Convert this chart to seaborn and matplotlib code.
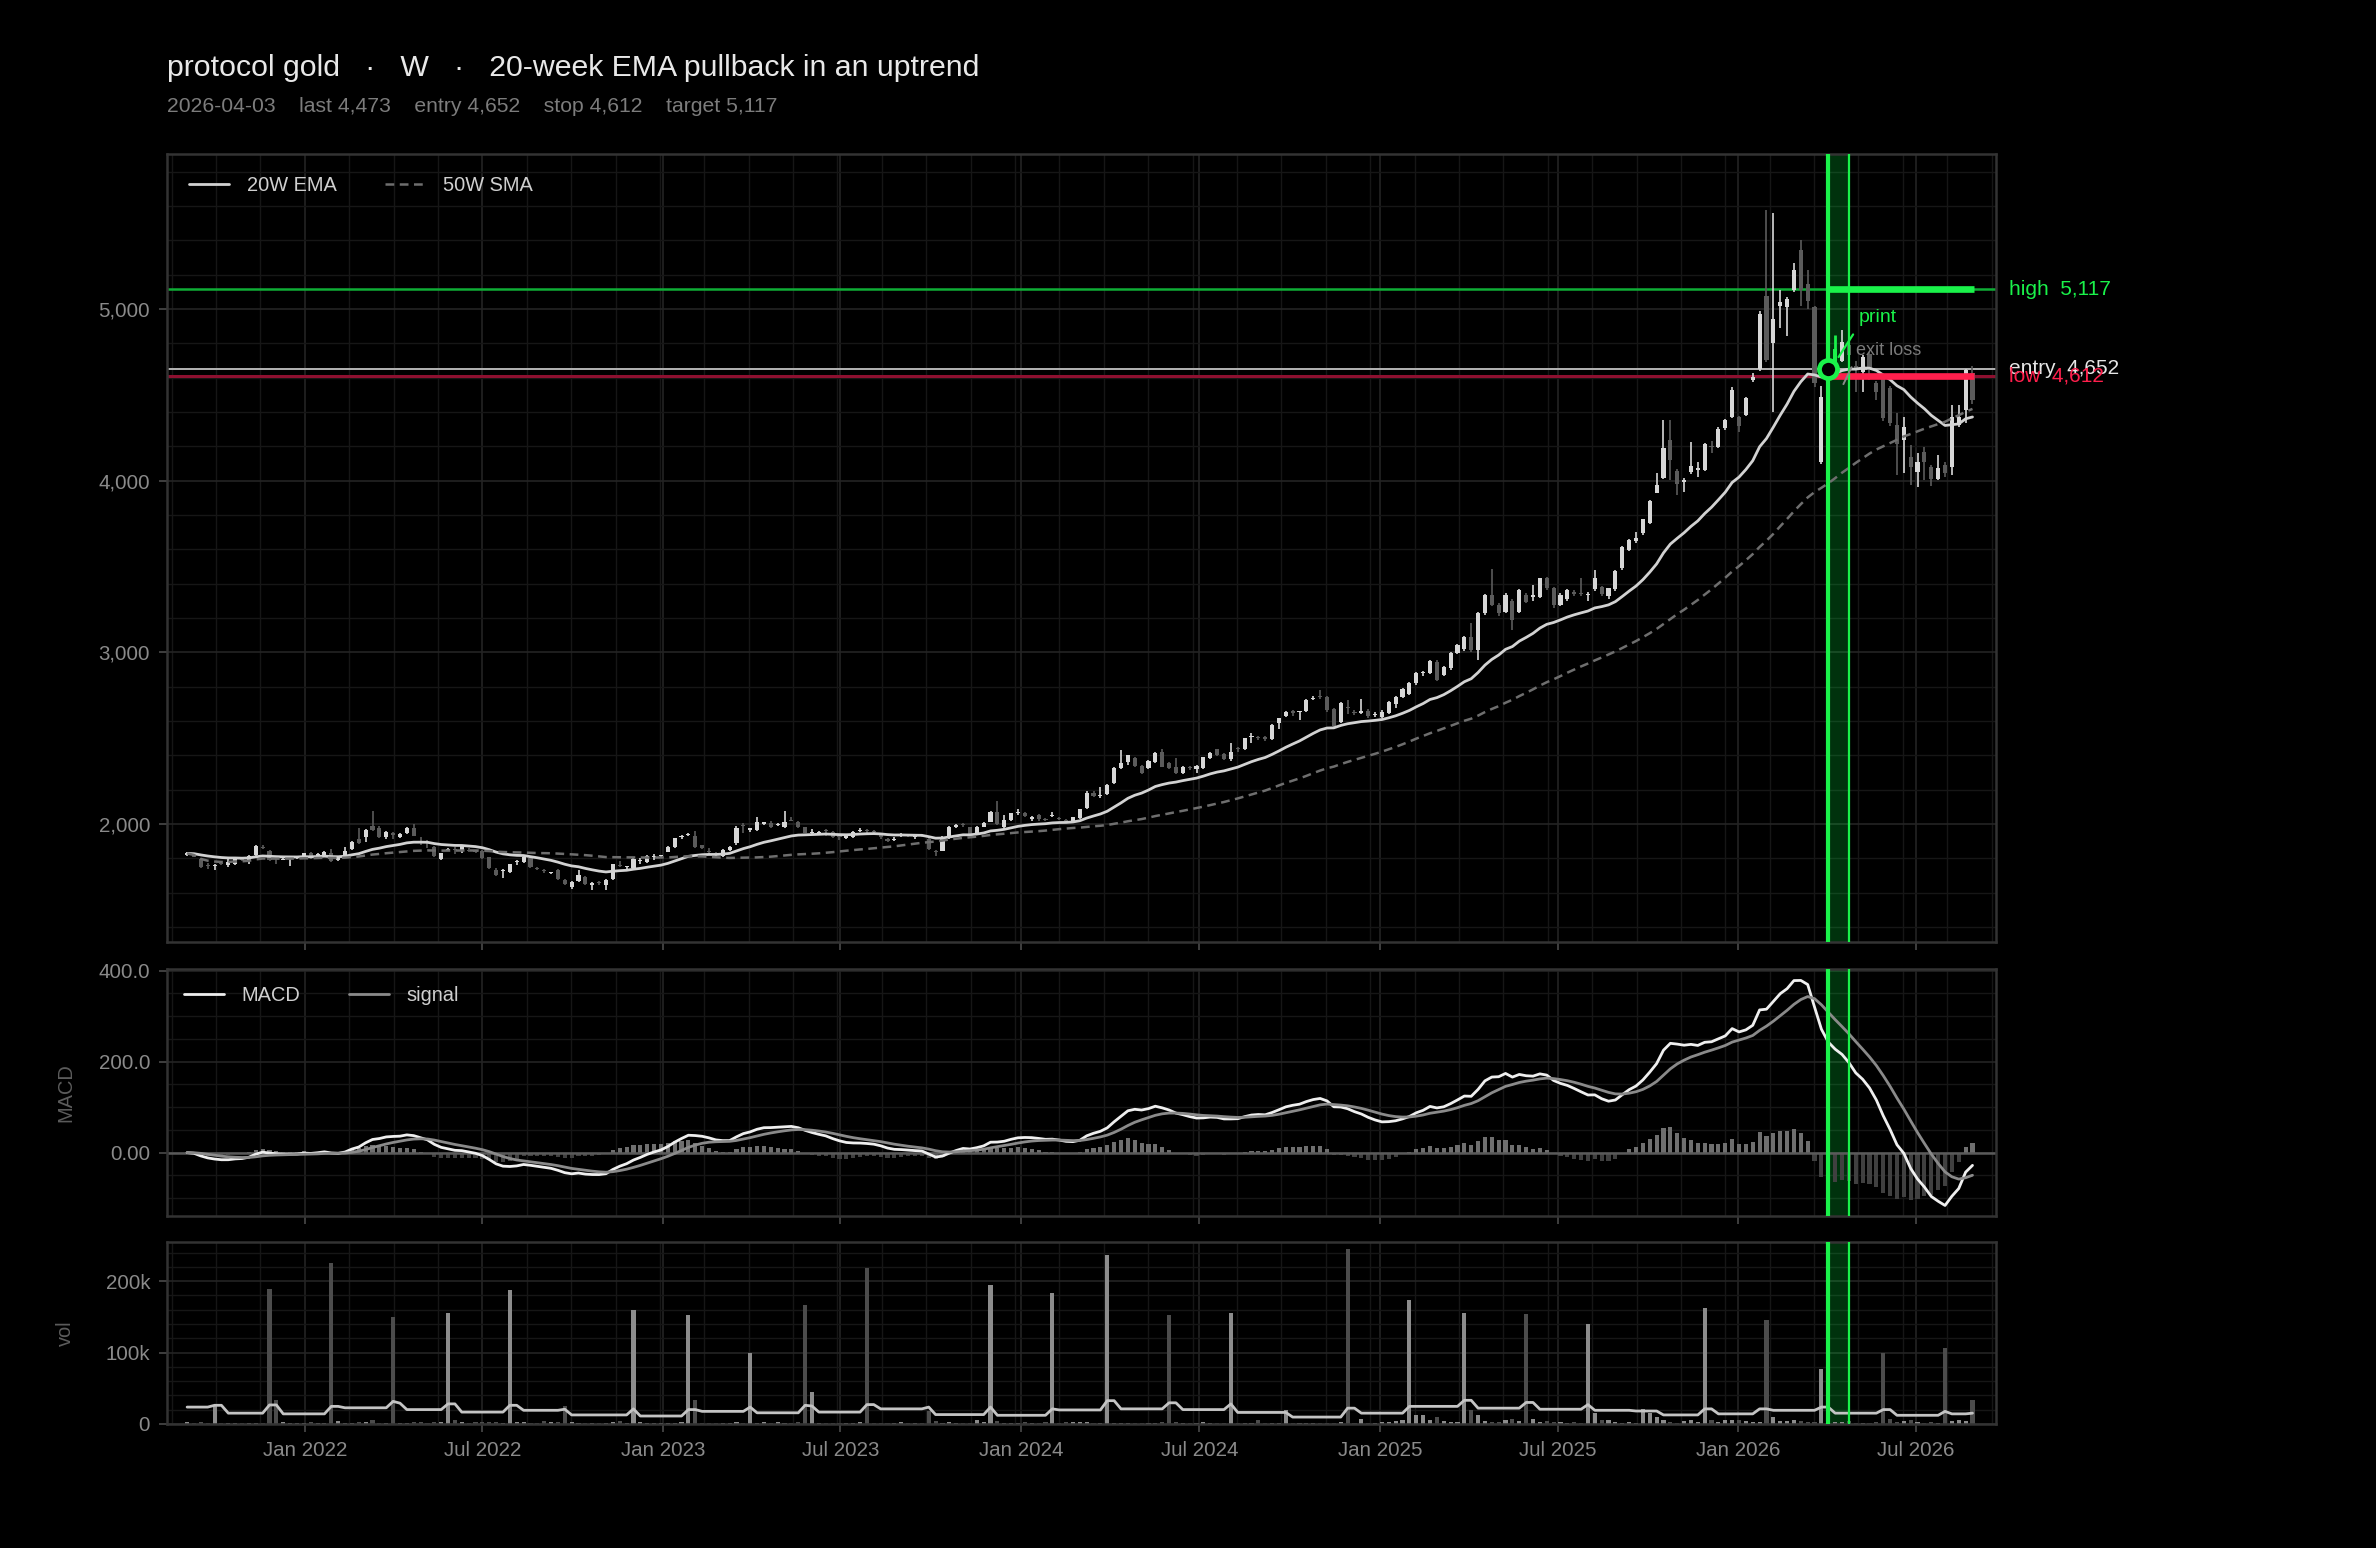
import numpy as np
import pandas as pd
import seaborn as sns
import matplotlib
matplotlib.use("Agg")
import matplotlib.pyplot as plt
import matplotlib.dates as mdates
from matplotlib.ticker import AutoMinorLocator, FixedLocator, FuncFormatter

# weekly candles, first bar on 2021-09-03
FIRST_WEEK = "2021-09-03"
SIGNAL_DATE = "2026-04-03"
SIGNAL_WEEKS = 3
ENTRY, STOP, TARGET, LAST = 4652, 4612, 5117, 4473

opens = [
    1820, 1825, 1794, 1760, 1755, 1770, 1761, 1767, 1804, 1787,
    1820, 1868, 1843, 1798, 1792, 1795, 1800, 1810, 1829, 1812,
    1818, 1833, 1790, 1810, 1854, 1910, 1926, 1988, 1975, 1926,
    1945, 1926, 1946, 1975, 1900, 1893, 1868, 1794, 1849, 1852,
    1843, 1848, 1841, 1843, 1806, 1732, 1725, 1722, 1776, 1778,
    1800, 1745, 1732, 1712, 1732, 1674, 1631, 1670, 1693, 1644,
    1661, 1645, 1678, 1763, 1747, 1742, 1783, 1780, 1808, 1812,
    1839, 1868, 1922, 1935, 1930, 1876, 1845, 1832, 1813, 1848,
    1887, 1995, 1968, 1968, 2003, 2007, 1994, 1980, 2022, 2013,
    1980, 1948, 1946, 1964, 1955, 1928, 1920, 1926, 1962, 1964,
    1958, 1940, 1912, 1905, 1932, 1932, 1922, 1932, 1915, 1845,
    1845, 1917, 1985, 1998, 1980, 1942, 1985, 2014, 2072, 1985,
    2023, 2062, 2065, 2027, 2052, 2027, 2047, 2033, 2025, 2014,
    2033, 2091, 2183, 2162, 2175, 2241, 2328, 2363, 2383, 2338,
    2324, 2363, 2421, 2357, 2334, 2295, 2333, 2320, 2324, 2383,
    2435, 2408, 2377, 2442, 2435, 2508, 2508, 2506, 2493, 2586,
    2630, 2658, 2652, 2660, 2728, 2743, 2738, 2668, 2597, 2684,
    2655, 2649, 2660, 2637, 2625, 2645, 2700, 2742, 2760, 2820,
    2878, 2882, 2946, 2868, 2907, 2998, 3018, 3091, 3014, 3227,
    3334, 3276, 3237, 3301, 3237, 3334, 3324, 3324, 3431, 3373,
    3276, 3309, 3350, 3348, 3336, 3367, 3379, 3328, 3367, 3489,
    3596, 3650, 3693, 3755, 3930, 4019, 4240, 4058, 3995, 4050,
    4065, 4062, 4205, 4198, 4310, 4372, 4372, 4382, 4590, 4654,
    5075, 4800, 5020, 5013, 5110, 5343, 5149, 5013, 4110, 4490,
    4660, 4700, 4790, 4670, 4634, 4741, 4567, 4596, 4538, 4324,
    4236, 4140, 4052, 4169, 4081, 4013, 4091, 4081, 4324, 4411,
    4625,
]
highs = [
    1835, 1830, 1800, 1772, 1768, 1778, 1800, 1805, 1810, 1820,
    1877, 1875, 1850, 1810, 1802, 1810, 1810, 1832, 1835, 1830,
    1843, 1853, 1805, 1864, 1900, 1975, 1970, 2078, 1990, 1960,
    1955, 1945, 1980, 2000, 1922, 1907, 1872, 1832, 1860, 1865,
    1876, 1858, 1850, 1850, 1810, 1745, 1740, 1770, 1790, 1812,
    1806, 1752, 1740, 1722, 1738, 1680, 1670, 1732, 1700, 1660,
    1668, 1678, 1770, 1786, 1758, 1800, 1800, 1818, 1823, 1822,
    1872, 1920, 1935, 1950, 1960, 1880, 1860, 1838, 1852, 1872,
    1990, 2005, 1978, 2039, 2012, 2015, 2005, 2075, 2043, 2020,
    1985, 1972, 1960, 1970, 1960, 1935, 1935, 1960, 1975, 1972,
    1965, 1945, 1918, 1922, 1945, 1938, 1936, 1942, 1922, 1850,
    1930, 1990, 1998, 2005, 1985, 1990, 2012, 2075, 2134, 2052,
    2066, 2085, 2070, 2045, 2058, 2035, 2072, 2040, 2030, 2042,
    2090, 2195, 2190, 2215, 2232, 2335, 2431, 2405, 2390, 2345,
    2372, 2420, 2437, 2362, 2383, 2338, 2340, 2345, 2392, 2420,
    2440, 2415, 2475, 2448, 2503, 2530, 2515, 2512, 2582, 2620,
    2660, 2665, 2660, 2730, 2745, 2780, 2745, 2675, 2712, 2720,
    2665, 2730, 2668, 2650, 2662, 2718, 2748, 2790, 2825, 2888,
    2893, 2955, 2955, 2922, 3000, 3050, 3093, 3170, 3235, 3340,
    3484, 3285, 3345, 3310, 3372, 3345, 3392, 3436, 3440, 3380,
    3345, 3370, 3365, 3431, 3350, 3480, 3385, 3378, 3480, 3618,
    3660, 3700, 3780, 3888, 4043, 4353, 4353, 4070, 4015, 4228,
    4112, 4220, 4230, 4315, 4360, 4546, 4380, 4490, 4628, 4990,
    5580, 5560, 5110, 5070, 5270, 5400, 5230, 5020, 4550, 4690,
    4850, 4880, 4800, 4700, 4730, 4750, 4580, 4620, 4550, 4392,
    4372, 4207, 4159, 4198, 4091, 4149, 4111, 4440, 4440, 4654,
    4667,
]
lows = [
    1815, 1805, 1745, 1740, 1733, 1760, 1752, 1760, 1785, 1767,
    1815, 1855, 1785, 1767, 1788, 1755, 1795, 1805, 1795, 1808,
    1812, 1780, 1785, 1805, 1850, 1885, 1897, 1960, 1920, 1915,
    1910, 1920, 1940, 1928, 1878, 1858, 1810, 1788, 1845, 1825,
    1830, 1838, 1830, 1795, 1738, 1698, 1685, 1715, 1762, 1772,
    1745, 1730, 1715, 1708, 1672, 1645, 1622, 1665, 1645, 1618,
    1645, 1616, 1672, 1752, 1740, 1738, 1770, 1775, 1790, 1806,
    1835, 1862, 1915, 1928, 1862, 1855, 1825, 1812, 1808, 1840,
    1877, 1945, 1955, 1960, 1995, 1978, 1990, 1975, 2015, 1975,
    1945, 1940, 1940, 1930, 1918, 1905, 1915, 1920, 1955, 1950,
    1935, 1915, 1895, 1900, 1925, 1925, 1910, 1922, 1848, 1815,
    1840, 1912, 1978, 1985, 1930, 1938, 1980, 2010, 1995, 1975,
    2018, 2055, 2040, 2015, 2018, 2015, 2040, 2022, 2010, 2010,
    2028, 2085, 2155, 2150, 2170, 2235, 2320, 2343, 2330, 2290,
    2318, 2358, 2330, 2318, 2292, 2290, 2315, 2300, 2318, 2378,
    2395, 2372, 2370, 2420, 2430, 2475, 2490, 2485, 2488, 2551,
    2625, 2630, 2605, 2655, 2720, 2730, 2655, 2565, 2590, 2640,
    2635, 2640, 2620, 2625, 2615, 2640, 2674, 2735, 2750, 2812,
    2862, 2875, 2832, 2860, 2900, 2990, 3010, 3005, 2955, 3220,
    3268, 3210, 3228, 3130, 3228, 3285, 3300, 3318, 3365, 3260,
    3268, 3300, 3328, 3330, 3300, 3360, 3330, 3310, 3360, 3480,
    3590, 3640, 3685, 3748, 3926, 4010, 4007, 3915, 3936, 4042,
    4020, 4055, 4160, 4190, 4295, 4365, 4285, 4375, 4576, 4640,
    4690, 4400, 4890, 4842, 5100, 5017, 5003, 4547, 4100, 4470,
    4650, 4690, 4700, 4518, 4518, 4586, 4470, 4350, 4320, 4033,
    4043, 3975, 3965, 4004, 3969, 4004, 4023, 4033, 4314, 4334,
    4450,
]
closes = [
    1829, 1810, 1752, 1754, 1763, 1766, 1780, 1800, 1790, 1816,
    1872, 1860, 1790, 1794, 1797, 1803, 1806, 1829, 1800, 1825,
    1836, 1785, 1800, 1843, 1897, 1890, 1965, 1967, 1926, 1955,
    1938, 1940, 1975, 1932, 1895, 1888, 1814, 1829, 1856, 1848,
    1872, 1843, 1835, 1800, 1742, 1703, 1730, 1767, 1786, 1808,
    1751, 1738, 1726, 1716, 1678, 1650, 1664, 1703, 1650, 1655,
    1656, 1674, 1765, 1758, 1753, 1796, 1788, 1813, 1812, 1817,
    1868, 1916, 1927, 1942, 1868, 1860, 1838, 1820, 1848, 1868,
    1975, 1988, 1972, 2013, 2007, 1984, 2001, 2013, 2019, 1984,
    1950, 1952, 1956, 1958, 1922, 1923, 1930, 1955, 1966, 1959,
    1953, 1925, 1900, 1915, 1937, 1929, 1927, 1928, 1852, 1835,
    1926, 1985, 1993, 1994, 1935, 1985, 2008, 2072, 2000, 2023,
    2062, 2066, 2047, 2040, 2027, 2023, 2052, 2028, 2015, 2039,
    2085, 2183, 2163, 2168, 2227, 2328, 2357, 2402, 2338, 2299,
    2367, 2416, 2334, 2324, 2299, 2334, 2328, 2340, 2388, 2416,
    2402, 2377, 2421, 2438, 2499, 2512, 2503, 2495, 2577, 2616,
    2650, 2645, 2656, 2720, 2735, 2738, 2664, 2571, 2707, 2678,
    2648, 2660, 2630, 2642, 2655, 2713, 2742, 2785, 2820, 2882,
    2884, 2950, 2839, 2917, 2994, 3043, 3087, 3014, 3227, 3334,
    3276, 3227, 3334, 3188, 3363, 3295, 3336, 3431, 3373, 3276,
    3334, 3363, 3343, 3338, 3342, 3431, 3340, 3373, 3476, 3612,
    3654, 3666, 3775, 3883, 3974, 4188, 4120, 3984, 4005, 4085,
    4072, 4215, 4197, 4300, 4355, 4528, 4318, 4485, 4605, 4970,
    4703, 4945, 5040, 5060, 5227, 5110, 5048, 4567, 4490, 4652,
    4770, 4810, 4730, 4650, 4722, 4644, 4518, 4363, 4334, 4217,
    4314, 4081, 4111, 4111, 4013, 4072, 4043, 4372, 4372, 4644,
    4473,
]
# weekly volume and its average, in thousands
volume_k = [
    2, 1, 3, 1, 26, 1, 1, 1, 1, 1,
    1, 1, 189, 34, 2, 1, 1, 1, 3, 1,
    1, 225, 4, 1, 1, 2, 2, 6, 1, 1,
    150, 1, 1, 2, 3, 1, 2, 2, 155, 5,
    2, 1, 2, 3, 2, 2, 1, 187, 3, 3,
    1, 1, 4, 2, 3, 25, 2, 1, 1, 1,
    1, 1, 2, 4, 1, 159, 2, 1, 1, 1,
    1, 1, 2, 152, 33, 1, 1, 1, 1, 1,
    2, 1, 100, 1, 2, 1, 3, 1, 1, 2,
    167, 44, 1, 1, 1, 1, 1, 1, 2, 218,
    1, 1, 1, 1, 3, 1, 1, 1, 18, 4,
    1, 2, 1, 1, 1, 5, 2, 194, 4, 1,
    1, 1, 3, 1, 1, 2, 183, 1, 2, 2,
    2, 2, 1, 1, 237, 1, 1, 1, 1, 1,
    1, 1, 2, 153, 2, 1, 1, 1, 2, 1,
    1, 1, 155, 1, 1, 1, 6, 1, 1, 1,
    20, 1, 1, 1, 1, 1, 1, 1, 2, 245,
    1, 7, 1, 1, 2, 3, 4, 6, 173, 13,
    13, 6, 9, 4, 2, 3, 155, 19, 13, 4,
    2, 3, 5, 7, 4, 154, 7, 2, 4, 2,
    2, 1, 2, 1, 140, 15, 5, 6, 3, 1,
    2, 1, 21, 15, 10, 6, 3, 1, 4, 5,
    2, 162, 6, 2, 6, 5, 6, 4, 2, 3,
    145, 10, 4, 4, 5, 4, 2, 3, 77, 2,
    2, 2, 4, 1, 1, 1, 2, 100, 7, 3,
    4, 5, 3, 1, 2, 1, 107, 4, 5, 4,
    33,
]
volume_avg_k = [
    23.5, 23.5, 23.5, 23.5, 26, 26, 15, 15, 15, 15,
    15, 15, 26.5, 26.5, 14, 14, 14, 14, 14, 14,
    14, 24.5, 24.5, 22.5, 22.5, 22.5, 22.5, 22.5, 22.5, 22.5,
    31.5, 29, 20, 20, 20, 20, 20, 20, 28, 28,
    16.5, 16.5, 16.5, 16.5, 16.5, 16.5, 16.5, 26, 26, 19,
    19, 19, 19, 19, 19, 20.5, 12.5, 12.5, 12.5, 12.5,
    12.5, 12.5, 12.5, 12.5, 12.5, 21, 11, 11, 11, 11,
    11, 11, 11, 20, 20, 17.5, 17.5, 17.5, 17.5, 17.5,
    17.5, 17.5, 23.5, 15.5, 15.5, 15.5, 15.5, 15.5, 15.5, 15.5,
    26, 25, 16.5, 16.5, 16.5, 16.5, 16.5, 16.5, 16.5, 27,
    27, 21, 21, 21, 21, 21, 21, 21, 23.5, 13,
    13, 13, 13, 13, 13, 13, 13, 23.5, 12, 12,
    12, 12, 12, 12, 12, 12, 21, 19.5, 19.5, 19.5,
    19.5, 19.5, 19.5, 19.5, 32.5, 32.5, 21, 21, 21, 21,
    21, 21, 21, 29.5, 29.5, 20, 20, 20, 20, 20,
    20, 20, 28, 16, 16, 16, 16, 16, 16, 16,
    16, 9.5, 9.5, 9.5, 9.5, 9.5, 9.5, 9.5, 9.5, 22,
    22, 15, 15, 15, 15, 15, 15, 15, 24.5, 24.5,
    24.5, 24.5, 24.5, 24.5, 24.5, 24.5, 33, 33, 22, 22,
    22, 22, 22, 22, 22, 30, 30, 20.5, 20.5, 20.5,
    20.5, 20.5, 20.5, 20.5, 27, 19, 19, 19, 19, 19,
    19, 18, 18, 18, 18, 12.5, 12.5, 12.5, 12.5, 12.5,
    12.5, 21, 21, 14, 14, 14, 14, 14, 14, 21,
    21, 19, 19, 19, 19, 19, 19, 19, 23.5, 23.5,
    15, 15, 15, 15, 15, 15, 15, 20, 20, 12,
    12, 12, 12, 12, 12, 12, 17.5, 14, 14, 14,
    15,
]

GREEN = "#1af24a"
RED = "#ff1f4c"
UP = "#d7d7d7"
DOWN = "#5b5b5b"
TXT = "#8a8a8a"

sns.set_theme(style="dark", rc={
    "figure.facecolor": "black",
    "axes.facecolor": "black",
    "savefig.facecolor": "black",
    "axes.edgecolor": "#333333",
    "axes.labelcolor": "#5c5c5c",
    "text.color": "#dddddd",
    "xtick.color": TXT,
    "ytick.color": TXT,
})
plt.rcParams["font.family"] = ["Liberation Sans", "DejaVu Sans"]

weeks = pd.date_range(FIRST_WEEK, periods=len(closes), freq="7D")
df = pd.DataFrame({
    "open": opens, "high": highs, "low": lows, "close": closes,
    "vol": np.array(volume_k) * 1000.0,
    "vol_avg": np.array(volume_avg_k) * 1000.0,
}, index=weeks)

df["ema20"] = df["close"].ewm(span=20, adjust=False).mean()
df["sma50"] = df["close"].rolling(50, min_periods=1).mean()
ema12 = df["close"].ewm(span=12, adjust=False).mean()
ema26 = df["close"].ewm(span=26, adjust=False).mean()
df["macd"] = ema12 - ema26
df["signal"] = df["macd"].ewm(span=9, adjust=False).mean()
df["hist"] = df["macd"] - df["signal"]

sig = pd.Timestamp(SIGNAL_DATE)
sig_end = sig + pd.Timedelta(weeks=SIGNAL_WEEKS)
is_up = df["close"] >= df["open"]
is_sig = (df.index >= sig) & (df.index < sig + pd.Timedelta(days=14))
colors = np.where(is_up, UP, DOWN)
body_lo = np.minimum(df["open"], df["close"])
body_h = np.maximum((df["close"] - df["open"]).abs(), 6)

fig = plt.figure(figsize=(11.88, 7.74), dpi=200)
ax = fig.add_axes([0.0702, 0.3914, 0.7698, 0.5088])
ax_m = fig.add_axes([0.0702, 0.2143, 0.7698, 0.1595], sharex=ax)
ax_v = fig.add_axes([0.0702, 0.0802, 0.7698, 0.1175], sharex=ax)

# price panel
norm = ~is_sig
ax.vlines(df.index[norm], df["low"][norm], df["high"][norm], colors=colors[norm], lw=0.6, zorder=3)
ax.bar(df.index[norm], body_h[norm], bottom=body_lo[norm], width=4.2, color=colors[norm], lw=0, zorder=3)

sns.lineplot(x=df.index, y=df["ema20"], ax=ax, color="#d2d2d2", lw=1.0, label="20W EMA", zorder=4)
sns.lineplot(x=df.index, y=df["sma50"], ax=ax, color="#6e6e6e", lw=0.9, label="50W SMA", zorder=4)
ax.get_lines()[-1].set_dashes((3.5, 2.2))

seg_end = df.index[-1] + pd.Timedelta(days=2)
ax.axhline(TARGET, color="#0fae36", lw=0.9, zorder=2)
ax.axhline(ENTRY, color="#b4b4b4", lw=0.7, zorder=2)
ax.axhline(STOP, color="#8e1030", lw=1.1, zorder=2)
ax.hlines(TARGET, sig, seg_end, color=GREEN, lw=2.4, zorder=5)
ax.hlines(STOP, sig, seg_end, color=RED, lw=2.4, zorder=5)

ax.vlines(df.index[is_sig], df["low"][is_sig], df["high"][is_sig], colors=GREEN, lw=1.0, zorder=6)
ax.bar(df.index[is_sig], body_h[is_sig], bottom=body_lo[is_sig], width=4.2, color=GREEN, lw=0, zorder=6)
ax.plot([sig], [ENTRY], "o", ms=6.5, mfc="black", mec=GREEN, mew=1.7, zorder=8)

yx = ax.get_yaxis_transform()
ax.text(1.007, TARGET, f"high  {TARGET:,}", transform=yx, color=GREEN, fontsize=7.5, va="center", ha="left")
ax.text(1.007, ENTRY, f"entry  {ENTRY:,}", transform=yx, color="#e6e6e6", fontsize=7.5, va="center", ha="left")
ax.text(1.007, STOP, f"low  {STOP:,}", transform=yx, color=RED, fontsize=7.5, va="center", ha="left")


def wk(n):
    return mdates.date2num(sig + pd.Timedelta(days=7 * n))


ax.annotate("print", xy=(wk(1.5), 4721), xytext=(wk(4.4), 4951), color=GREEN, fontsize=7,
            va="center", ha="left", zorder=9,
            arrowprops=dict(arrowstyle="-", color=GREEN, lw=0.8, shrinkA=1, shrinkB=0, relpos=(0, 0)))
ax.annotate("exit loss", xy=(wk(2.2), 4563), xytext=(wk(4.0), 4761), color="#7a7a7a", fontsize=6.5,
            va="center", ha="left", zorder=9,
            arrowprops=dict(arrowstyle="-", color="#8a8a8a", lw=0.7, shrinkA=1, shrinkB=0, relpos=(0, 0)))

# MACD panel
hist_colors = np.where(df["hist"] >= 0, "#6f6f6f", "#404040")
ax_m.bar(df.index, df["hist"], width=4.2, color=hist_colors, lw=0, zorder=2)
ax_m.axhline(0, color="#5a5a5a", lw=0.9, zorder=2)
sns.lineplot(x=df.index, y=df["macd"], ax=ax_m, color="#efefef", lw=1.0, label="MACD", zorder=4)
sns.lineplot(x=df.index, y=df["signal"], ax=ax_m, color="#8a8a8a", lw=1.0, label="signal", zorder=4)

# volume panel
vol_colors = np.where(is_up, "#8c8c8c", "#4c4c4c")
ax_v.bar(df.index, df["vol"], width=4.2, color=vol_colors, lw=0, zorder=2)
sns.lineplot(x=df.index, y=df["vol_avg"], ax=ax_v, color="#c4c4c4", lw=1.0, zorder=4, legend=False)

for a in (ax, ax_m, ax_v):
    a.axvspan(sig, sig_end, color="#00ff44", alpha=0.2, lw=0, zorder=1)
    a.axvline(sig, color=GREEN, lw=1.5, zorder=7)
    a.axvline(sig_end, color=GREEN, lw=0.8, zorder=7)

ax.set_xlim(df.index[0] - pd.Timedelta(days=20.7), df.index[-1] + pd.Timedelta(days=23.8))
ax.set_ylim(1312, 5901)
ax_m.set_ylim(-140, 403)
ax_v.set_ylim(0, 255000)

ax.yaxis.set_major_locator(FixedLocator([2000, 3000, 4000, 5000]))
ax.yaxis.set_major_formatter(FuncFormatter(lambda v, p: f"{v:,.0f}"))
ax.yaxis.set_minor_locator(AutoMinorLocator(5))
ax_m.set_yticks([0, 200, 400], ["0.00", "200.0", "400.0"])
ax_m.yaxis.set_minor_locator(AutoMinorLocator(4))
ax_v.set_yticks([0, 100000, 200000], ["0", "100k", "200k"])
ax_v.yaxis.set_minor_locator(AutoMinorLocator(5))
ax_v.xaxis.set_major_locator(mdates.MonthLocator(bymonth=[1, 7]))
ax_v.xaxis.set_major_formatter(mdates.DateFormatter("%b %Y"))
ax_v.xaxis.set_minor_locator(AutoMinorLocator(4))

for a in (ax, ax_m, ax_v):
    a.set_xlabel("")
    a.grid(True, which="major", color="#242424", lw=0.6)
    a.grid(True, which="minor", color="#161616", lw=0.5)
    a.set_axisbelow(True)
    a.tick_params(which="major", bottom=True, left=True, length=3, width=0.6, color="#4a4a4a",
                  labelsize=7.4, labelcolor=TXT, pad=3)
    a.tick_params(which="minor", length=0)
    for s in a.spines.values():
        s.set_color("#333333")
        s.set_linewidth(0.9)
ax.tick_params(labelbottom=False)
ax_m.tick_params(labelbottom=False)

ax.set_ylabel("")
ax_m.set_ylabel("MACD", fontsize=7.2, color="#5c5c5c")
ax_v.set_ylabel("vol", fontsize=7.2, color="#5c5c5c")
ax_m.yaxis.set_label_coords(-0.05, 0.5)
ax_v.yaxis.set_label_coords(-0.05, 0.5)

ax.legend(loc="upper left", ncol=2, frameon=False, fontsize=7.2, labelcolor="#cfcfcf",
          handlelength=2.0, handletextpad=0.9, columnspacing=2.4, borderaxespad=0.7)
ax_m.legend(loc="upper left", ncol=2, frameon=False, fontsize=7.2, labelcolor="#cfcfcf",
            handlelength=2.0, handletextpad=0.9, columnspacing=2.4, borderaxespad=0.45)

fig.text(0.0702, 0.951, "protocol gold   \u00b7   W   \u00b7   20-week EMA pullback in an uptrend",
         fontsize=10.9, color="#e8e8e8", va="baseline", ha="left")
fig.text(0.0702, 0.9276,
         f"{SIGNAL_DATE}    last {LAST:,}    entry {ENTRY:,}    stop {STOP:,}    target {TARGET:,}",
         fontsize=7.6, color="#7c7c7c", va="baseline", ha="left")

fig.savefig("out.png", dpi=200, facecolor="black")
